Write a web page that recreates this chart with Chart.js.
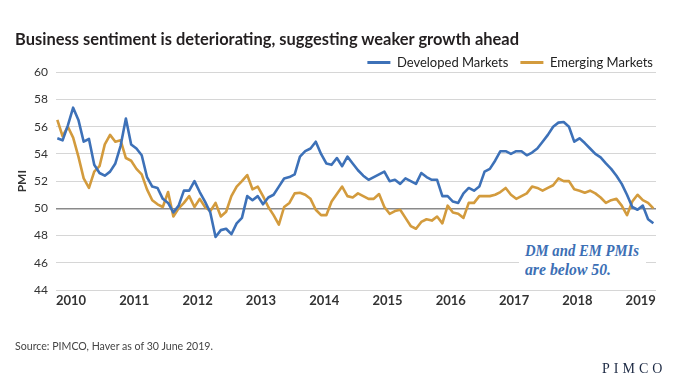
<!DOCTYPE html>
<html>
<head>
<meta charset="utf-8">
<script src="https://cdn.jsdelivr.net/npm/chart.js@4.4.1/dist/chart.umd.min.js"></script>
<style>
html,body{margin:0;padding:0;background:#fff;}
#wrap{position:relative;width:680px;height:383px;overflow:hidden;background:#fff;}
#c{position:absolute;left:0;top:0;}
.txt{position:absolute;white-space:nowrap;transform-origin:0 0;}
#title{left:15px;top:29px;font-family:Lato,sans-serif;font-weight:bold;font-size:17px;line-height:20px;color:#231f20;}
#source{left:15px;top:339px;font-family:Lato,sans-serif;font-size:12px;line-height:14px;color:#444;}
#logo{left:602px;top:361px;font-family:"Liberation Serif",serif;font-size:14px;line-height:16px;letter-spacing:4px;color:#1d2a44;}
#note{position:absolute;left:519px;top:241px;width:127px;height:39px;background:#fff;}
#note div{position:absolute;left:6px;white-space:nowrap;font-family:"Liberation Serif",serif;font-style:italic;font-weight:bold;font-size:16px;line-height:19px;color:#3c6fb5;transform-origin:0 0;}
</style>
</head>
<body>
<div id="wrap">
  <canvas id="c" width="680" height="383"></canvas>
  <div id="title" class="txt" data-w="504">Business sentiment is deteriorating, suggesting weaker growth ahead</div>
  <div id="note"><div id="n1" style="top:0px" data-w="114">DM and EM PMIs</div><div id="n2" style="top:19px" data-w="86">are below 50.</div></div>
  <div id="source" class="txt" data-w="198">Source: PIMCO, Haver as of 30 June 2019.</div>
  <div id="logo" class="txt">PIMCO</div>
</div>
<script>
// Monthly PMI readings, Jan 2010 - Jun 2019
const developedMarkets = [
  55.15,55.0,56.1,57.4,56.5,54.9,55.1,53.2,52.6,52.4,
  52.7,53.3,54.6,56.6,54.7,54.4,53.9,52.3,51.6,51.5,
  50.7,50.4,49.7,50.2,51.3,51.3,52.0,51.2,50.5,49.7,
  47.9,48.4,48.5,48.1,48.9,49.3,50.9,50.6,50.9,50.3,
  50.8,51.0,51.6,52.2,52.3,52.5,53.8,54.2,54.4,54.9,
  54.0,53.3,53.2,53.7,53.1,53.8,53.3,52.8,52.4,52.1,
  52.3,52.5,52.7,52.0,52.1,51.8,52.2,52.0,51.8,52.6,
  52.3,52.1,52.1,50.9,50.9,50.5,50.4,51.1,51.5,51.3,
  51.6,52.7,52.9,53.5,54.2,54.2,54.0,54.2,54.2,53.9,
  54.1,54.4,54.9,55.4,56.0,56.3,56.35,56.0,54.9,55.15,
  54.8,54.4,54.0,53.75,53.3,52.9,52.4,51.8,51.0,50.1,
  49.9,50.2,49.2,48.9
];
const emergingMarkets = [
  56.5,55.3,56.0,55.2,53.8,52.2,51.5,52.7,53.1,54.7,
  55.4,54.9,55.0,53.7,53.5,52.9,52.5,51.4,50.6,50.3,
  50.1,51.2,49.4,50.0,50.4,50.9,50.1,50.7,50.1,49.8,
  50.4,49.4,49.75,50.9,51.6,52.0,52.45,51.4,51.6,50.9,
  50.1,49.5,48.8,50.1,50.4,51.1,51.15,51.0,50.7,49.9,
  49.5,49.5,50.5,51.05,51.6,50.9,50.8,51.1,50.9,50.7,
  50.7,51.05,50.1,49.6,49.8,49.9,49.3,48.7,48.5,49.0,
  49.2,49.1,49.4,48.9,50.2,49.7,49.6,49.3,50.4,50.4,
  50.9,50.9,50.9,51.0,51.2,51.5,51.0,50.7,50.9,51.1,
  51.6,51.5,51.3,51.5,51.7,52.2,52.0,52.0,51.4,51.3,
  51.15,51.3,51.1,50.8,50.4,50.6,50.7,50.2,49.5,50.5,
  51.0,50.6,50.4,50.0
];
const yearLabels = ['2010','2011','2012','2013','2014','2015','2016','2017','2018','2019'];
const seriesNames = ['Developed Markets','Emerging Markets'];

const BLUE = '#3d71b8';
const ORANGE = '#d39b3d';
const LABEL_OFFSET = 2.6; // year label sits ~2.6 months after the first point of the year

const fitLegend = {
  id: 'fitLegend',
  beforeLayout(chart) {
    const lg = chart.legend;
    if (lg && !lg._patched) {
      const orig = lg.fit.bind(lg);
      lg.fit = function () { orig(); this.height = 28.3; };
      lg._patched = true;
    }
  },
  afterLayout(chart) {
    const lg = chart.legend;
    if (lg) { lg.left += 9; lg.right += 9; }
  }
};

new Chart(document.getElementById('c'), {
  type: 'line',
  data: {
    datasets: [
      { label: seriesNames[0], data: developedMarkets.map((v, i) => ({ x: i, y: v })),
        borderColor: BLUE, backgroundColor: BLUE, borderWidth: 2.6, pointRadius: 0, tension: 0, borderJoinStyle: 'round' },
      { label: seriesNames[1], data: emergingMarkets.map((v, i) => ({ x: i, y: v })),
        borderColor: ORANGE, backgroundColor: ORANGE, borderWidth: 2.6, pointRadius: 0, tension: 0, borderJoinStyle: 'round' }
    ]
  },
  plugins: [fitLegend],
  options: {
    responsive: false,
    animation: false,
    events: [],
    layout: { padding: { top: 44, right: 24, left: 0, bottom: 0 } },
    plugins: {
      tooltip: { enabled: false },
      legend: {
        display: true, position: 'top', align: 'end',
        labels: {
          boxWidth: 23, boxHeight: 3, padding: 12, color: '#222',
          font: { family: 'Lato', size: 13 },
          generateLabels(chart) {
            const items = Chart.defaults.plugins.legend.labels.generateLabels(chart);
            items.forEach(it => { it.lineWidth = 0; it.fillStyle = it.strokeStyle; });
            return items;
          }
        }
      }
    },
    scales: {
      x: {
        type: 'linear', min: -0.25, max: 113.5,
        afterBuildTicks(scale) { scale.ticks = yearLabels.map((l, k) => ({ value: k * 12 + LABEL_OFFSET })); },
        afterFit(scale) { scale.height = 93; },
        ticks: { autoSkip: false, maxRotation: 0, padding: 3, color: '#333',
          font: { family: 'Lato', size: 13, weight: 'bold' },
          callback(v, idx) { return yearLabels[idx]; } },
        grid: { display: false, drawTicks: false },
        border: { display: false }
      },
      y: {
        min: 44, max: 60,
        afterFit(scale) { scale.width = 56; },
        ticks: { stepSize: 2, padding: 8, color: '#333', font: { family: 'Lato', size: 12 } },
        grid: {
          drawTicks: false,
          color: c => (c.tick && c.tick.value === 50) ? '#8a8a8a' : '#d6d6d6',
          lineWidth: c => (c.tick && c.tick.value === 50) ? 1.5 : 1
        },
        border: { display: false },
        title: { display: true, text: 'PMI', color: '#333', font: { family: 'Lato', size: 12, weight: 'bold' }, padding: { top: 15, bottom: 0 } }
      }
    }
  }
});

// fit text widths to the reference
document.querySelectorAll('[data-w]').forEach(el => {
  const w = el.getBoundingClientRect().width;
  const t = parseFloat(el.getAttribute('data-w'));
  if (w > 0) el.style.transform = 'scaleX(' + (t / w) + ')';
});
</script>
</body>
</html>
